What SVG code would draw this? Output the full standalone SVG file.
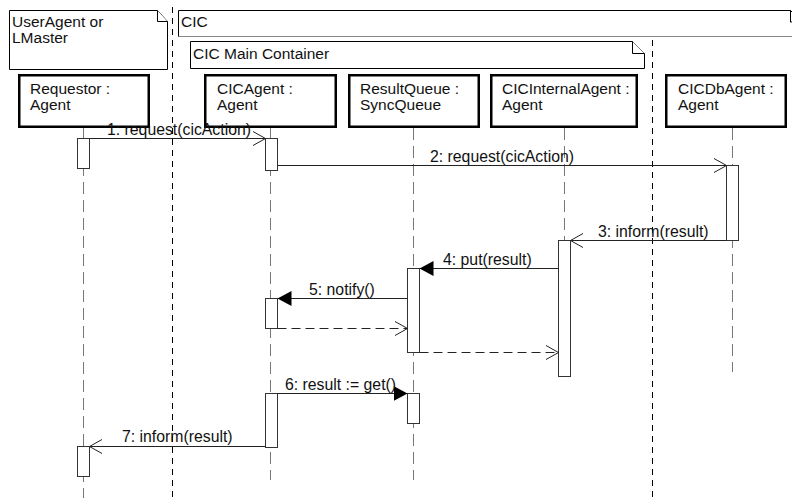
<svg xmlns="http://www.w3.org/2000/svg" width="792" height="498" viewBox="0 0 792 498">
<style>
text{font-family:"Liberation Sans",Arial,sans-serif;fill:#111}
.hd{font-size:15.5px}
.lb{font-size:15.8px}
.note{fill:#fff;stroke:#000;stroke-width:1}
.box{fill:#fff;stroke:#000;stroke-width:2.5}
.life{stroke:#777;stroke-width:1;stroke-dasharray:12 6;fill:none}
.sep{stroke:#000;stroke-width:1;stroke-dasharray:6 5;fill:none}
.act{fill:#fff;stroke:#333;stroke-width:1}
.msg{stroke:#222;stroke-width:1;fill:none}
.ret{stroke:#222;stroke-width:1;fill:none;stroke-dasharray:9 5}
</style>
<defs>
<marker id="open" viewBox="0 0 14 16" refX="13.5" refY="8" markerWidth="14" markerHeight="16" markerUnits="userSpaceOnUse" orient="auto"><path d="M1,1 L13.5,8 L1,15" fill="none" stroke="#222" stroke-width="1"/></marker>
<marker id="filled" viewBox="0 0 14 16" refX="14" refY="8" markerWidth="14" markerHeight="16" markerUnits="userSpaceOnUse" orient="auto"><path d="M0,0.5 L14,8 L0,15.5 Z" fill="#000"/></marker>
</defs>
<rect width="792" height="498" fill="#fff"/>
<g id="separators">
<line class="sep" x1="172.5" y1="7" x2="172.5" y2="498"/>
<line class="sep" x1="652.5" y1="40" x2="652.5" y2="498"/>
</g>
<g id="note-useragent">
<path class="note" d="M9.5,10.5 H157.5 L167.5,21.5 V69.5 H9.5 Z"/>
<path class="note" d="M157.5,10.5 V21.5 H167.5" fill="none"/>
<text class="hd" x="12" y="27">UserAgent or</text>
<text class="hd" x="12" y="43">LMaster</text>
</g>
<g id="note-cic">
<path d="M178.5,10.5 H790.5 L802,22 V36.5 H178.5 Z" fill="#fff" stroke="#000"/>
<path d="M178.5,36.5 H792" stroke="#888" stroke-width="1.2" fill="none"/>
<path d="M790.5,10.5 V22 H802" fill="none" stroke="#000"/>
<text class="hd" x="181" y="27">CIC</text>
</g>
<g id="note-main">
<path class="note" d="M190.5,41.5 H632.5 L644.5,53.5 V68.5 H190.5 Z"/>
<path class="note" d="M632.5,41.5 V53.5 H644.5" fill="none"/>
<text class="hd" x="193" y="59">CIC Main Container</text>
</g>
<g id="requestor">
<line class="life" x1="83.5" y1="128" x2="83.5" y2="498"/>
<rect class="box" x="19.25" y="75.25" width="129.5" height="51.5"/>
<text class="hd" x="30" y="94">Requestor :</text>
<text class="hd" x="30" y="110">Agent</text>
<rect class="act" x="77.5" y="138.5" width="12" height="30"/>
<rect class="act" x="77.5" y="446.5" width="12" height="30"/>
</g>
<g id="cicagent">
<line class="life" x1="270.5" y1="128" x2="270.5" y2="480"/>
<rect class="box" x="205.25" y="75.25" width="130.5" height="51.5"/>
<text class="hd" x="217" y="94">CICAgent :</text>
<text class="hd" x="217" y="110">Agent</text>
<rect class="act" x="265.5" y="138.5" width="12" height="32"/>
<rect class="act" x="265.5" y="298.5" width="12" height="30"/>
<rect class="act" x="265.5" y="393.5" width="12" height="54"/>
</g>
<g id="resultqueue">
<line class="life" x1="413.5" y1="128" x2="413.5" y2="480"/>
<rect class="box" x="349.25" y="75.25" width="129.5" height="51.5"/>
<text class="hd" x="360" y="94">ResultQueue :</text>
<text class="hd" x="360" y="110">SyncQueue</text>
<rect class="act" x="407.5" y="268.5" width="12" height="84"/>
<rect class="act" x="407.5" y="393.5" width="12" height="30"/>
</g>
<g id="cicinternalagent">
<line class="life" x1="564.5" y1="128" x2="564.5" y2="376"/>
<rect class="box" x="491.25" y="75.25" width="145.5" height="51.5"/>
<text class="hd" x="502" y="94">CICInternalAgent :</text>
<text class="hd" x="502" y="110">Agent</text>
<rect class="act" x="558.5" y="240.5" width="12" height="136"/>
</g>
<g id="cicdbagent">
<line class="life" x1="732.5" y1="128" x2="732.5" y2="372"/>
<rect class="box" x="666.25" y="75.25" width="119.5" height="51.5"/>
<text class="hd" x="678" y="94">CICDbAgent :</text>
<text class="hd" x="678" y="110">Agent</text>
<rect class="act" x="726.5" y="165.5" width="12" height="75"/>
</g>
<g id="connectors">
<path class="msg" d="M89.5,138.5 H265.5" marker-end="url(#open)"/>
<text class="lb" x="107" y="135">1: request(cicAction)</text>
<path class="msg" d="M277.5,165.5 H726.5" marker-end="url(#open)"/>
<text class="lb" x="430" y="162">2: request(cicAction)</text>
<path class="msg" d="M726.5,240.5 H570.5" marker-end="url(#open)"/>
<text class="lb" x="598" y="237">3: inform(result)</text>
<path class="msg" d="M558.5,268.5 H419.5" marker-end="url(#filled)"/>
<text class="lb" x="443" y="265">4: put(result)</text>
<path class="msg" d="M407.5,298.5 H277.5" marker-end="url(#filled)"/>
<text class="lb" x="309" y="295">5: notify()</text>
<path class="ret" d="M277.5,328.5 H407.5" marker-end="url(#open)"/>
<path class="ret" d="M419.5,352.5 H558.5" marker-end="url(#open)"/>
<path class="msg" d="M277.5,393.5 H407.5" marker-end="url(#filled)"/>
<text class="lb" x="285" y="390">6: result := get()</text>
<path class="msg" d="M265.5,446.5 H89.5" marker-end="url(#open)"/>
<text class="lb" x="122" y="442">7: inform(result)</text>
</g>
</svg>
